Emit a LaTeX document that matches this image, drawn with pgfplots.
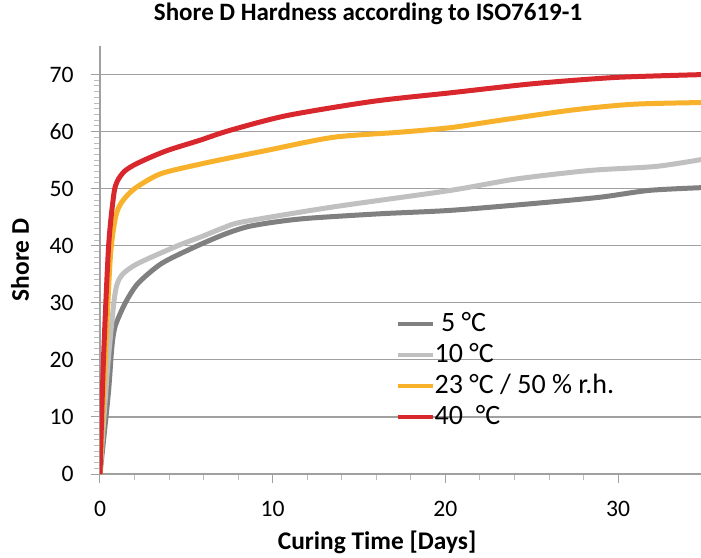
\documentclass[border=0pt]{standalone}
\usepackage{fontspec}
\setmainfont{Carlito}
\usepackage{pgfplots}
\pgfplotsset{compat=1.18}

\definecolor{cDark}{HTML}{808080}
\definecolor{cLight}{HTML}{C0C0C0}
\definecolor{cOrange}{HTML}{F8B12A}
\definecolor{cRed}{HTML}{D9272E}
\definecolor{cGrid}{HTML}{A0A0A0}

\begin{document}
\begin{tikzpicture}
% picture frame: 701 x 557 px at 0.5pt per px, axis origin at (100,474) px
\path[use as bounding box] (-50pt,-41.5pt) rectangle (300.5pt,237pt);
\begin{axis}[
  scale only axis,
  width=300.5pt, height=214pt,
  at={(0,0)}, anchor=south west,
  xmin=0, xmax=34.8, ymin=0, ymax=75,
  axis lines=left,
  axis line style={-, draw=cGrid, line width=0.6pt},
  xtick={0,10,20,30}, minor x tick num=4,
  ytick={0,10,...,70}, minor y tick num=9,
  tick align=outside,
  major tick length=4.5pt, minor tick length=3pt,
  every tick/.style={cGrid, line width=0.5pt},
  minor tick style={cGrid!70},
  ymajorgrids,
  major grid style={cGrid, line width=0.6pt},
  /pgf/number format/assume math mode=true,
  tick label style={font=\fontsize{11.8}{13}\selectfont},
  xticklabel style={anchor=base, yshift=-16.5pt},
  yticklabel style={anchor=east, inner sep=0pt, xshift=-8.5pt},
  title={\textbf{Shore D Hardness according to ISO7619-1}},
  every axis title/.style={at={(axis description cs:0.446,1)}, anchor=base,
    yshift=12.8pt, font=\fontsize{12.5}{14}\selectfont},
  xlabel={\textbf{Curing Time [Days]}},
  every axis x label/.style={at={(axis description cs:0.461,0)}, anchor=base,
    yshift=-37.5pt, font=\fontsize{12.7}{14}\selectfont},
  ylabel={\textbf{Shore D}},
  every axis y label/.style={at={(axis description cs:0,0.5)}, rotate=90,
    anchor=center, yshift=40pt, font=\fontsize{12.7}{14}\selectfont},
  legend style={draw=none, fill=none, at={(axis cs:17.1,28.6)}, anchor=north west,
    inner sep=0pt, row sep=2.5pt,
    nodes={inner sep=0pt, text height=10pt, text depth=3pt},
    font=\fontsize{14}{16}\selectfont,
    /tikz/every even column/.append style={column sep=0pt}},
  legend cell align=left,
  legend image code/.code={\draw[#1, line width=2pt] (0pt,0pt) -- (17.5pt,0pt);},
  every axis plot/.append style={line width=2.5pt, smooth, tension=0.45, line join=round},
]
\addplot[cDark] coordinates {
  (0,0) (0.48,14) (0.68,22) (0.87,25.8) (1.45,29.9) (2.2,33.4) (3.57,36.9)
  (5.5,39.8) (7.2,42) (8.5,43.3) (10,44.1) (12,44.8) (16.2,45.6) (20.3,46.2)
  (25.1,47.4) (28.95,48.5) (31.8,49.7) (35,50.2)};
\addlegendentry{\ 5 °C}
\addplot[cLight] coordinates {
  (0,0) (0.19,8.3) (0.48,20) (0.87,31.6) (1.25,34.8) (2.2,36.9) (4.5,40)
  (5.8,41.5) (7.2,43.2) (8.3,44.2) (13.5,46.8) (20.3,49.7) (24.1,51.7)
  (28.4,53.2) (32.2,53.9) (35,55.2)};
\addlegendentry{10 °C}
\addplot[cOrange] coordinates {
  (0,0) (0.3,20) (0.6,38) (0.9,45) (1.25,47.6) (2,50) (3.5,52.6) (5.8,54.3)
  (7.2,55.2) (9.65,56.7) (13.5,59) (17.4,59.9) (20.3,60.7) (23.2,62)
  (27.4,63.8) (30.9,64.8) (35,65.1)};
\addlegendentry{23 °C / 50 \% r.h.}
\addplot[cRed] coordinates {
  (0,0) (0.2,20) (0.5,40) (0.8,49) (1.0,51.3) (1.4,53) (2,54.2) (3,55.6)
  (4,56.8) (5.8,58.5) (7.5,60.2) (10.8,62.8) (15.8,65.3) (20.3,66.8)
  (25.1,68.4) (29.9,69.5) (35,70)};
\addlegendentry{40\ \ °C}
\end{axis}
\end{tikzpicture}
\end{document}
